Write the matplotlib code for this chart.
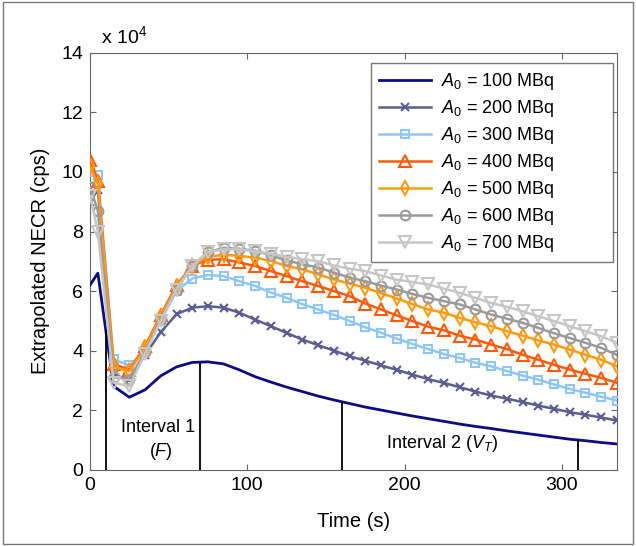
import numpy as np
import matplotlib
matplotlib.use("Agg")
import matplotlib.pyplot as plt
from matplotlib.patches import Rectangle

plt.rcParams['font.family'] = ['Liberation Sans', 'DejaVu Sans']
plt.rcParams['mathtext.fontset'] = 'custom'
plt.rcParams['mathtext.rm'] = 'Liberation Sans'
plt.rcParams['mathtext.it'] = 'Liberation Sans:italic'

# Time points (s)
time_s = [0, 5] + list(range(15, 336, 10))

# Extrapolated NECR (x 10^4 cps)
necr_100 = [6.2, 6.6, 2.8, 2.43, 2.68, 3.15, 3.45, 3.6, 3.62, 3.55, 3.35, 3.12, 2.94, 2.77,
            2.62, 2.47, 2.34, 2.22, 2.1, 2.0, 1.9, 1.8, 1.71, 1.62, 1.53, 1.45, 1.38, 1.3,
            1.23, 1.16, 1.09, 1.02, 0.97, 0.91, 0.86]
necr_200 = [9.0, 9.4, 3.2, 3.0, 3.85, 4.62, 5.22, 5.44, 5.49, 5.44, 5.27, 5.04, 4.82, 4.59,
            4.37, 4.18, 4.0, 3.81, 3.66, 3.5, 3.35, 3.19, 3.04, 2.91, 2.77, 2.62, 2.49, 2.38,
            2.27, 2.15, 2.04, 1.93, 1.84, 1.75, 1.65]
necr_300 = [10.0, 9.9, 3.7, 3.5, 4.0, 5.0, 6.0, 6.42, 6.54, 6.5, 6.33, 6.17, 5.95, 5.77,
            5.56, 5.38, 5.2, 4.99, 4.78, 4.6, 4.4, 4.22, 4.05, 3.88, 3.75, 3.59, 3.47, 3.31,
            3.16, 3.02, 2.86, 2.71, 2.58, 2.45, 2.32]
necr_400 = [10.4, 9.7, 3.55, 3.35, 4.15, 5.2, 6.2, 6.85, 7.05, 7.07, 6.96, 6.84, 6.67, 6.5,
            6.33, 6.17, 6.0, 5.83, 5.58, 5.38, 5.18, 4.99, 4.8, 4.68, 4.5, 4.37, 4.2, 4.05,
            3.86, 3.69, 3.52, 3.36, 3.22, 3.08, 2.92]
necr_500 = [10.2, 9.6, 3.45, 3.3, 4.1, 5.15, 6.15, 6.85, 7.15, 7.22, 7.18, 7.12, 7.01, 6.84,
            6.73, 6.56, 6.39, 6.25, 6.11, 5.93, 5.75, 5.56, 5.38, 5.27, 5.1, 4.95, 4.82, 4.65,
            4.5, 4.34, 4.2, 4.03, 3.86, 3.69, 3.47]
necr_600 = [9.5, 8.7, 3.1, 3.05, 3.95, 5.05, 6.05, 6.85, 7.3, 7.45, 7.42, 7.35, 7.2, 7.03,
            6.9, 6.79, 6.62, 6.45, 6.33, 6.18, 6.05, 5.9, 5.77, 5.66, 5.55, 5.38, 5.21, 5.07,
            4.93, 4.76, 4.58, 4.42, 4.26, 4.09, 3.85]
necr_700 = [9.2, 8.0, 2.92, 2.8, 3.9, 5.0, 6.05, 6.85, 7.3, 7.4, 7.4, 7.33, 7.25, 7.15,
            7.07, 7.0, 6.86, 6.75, 6.67, 6.52, 6.38, 6.3, 6.22, 6.08, 5.94, 5.77, 5.6, 5.47,
            5.32, 5.15, 4.99, 4.82, 4.65, 4.48, 4.26]

activities = [100, 200, 300, 400, 500, 600, 700]
series = [necr_100, necr_200, necr_300, necr_400, necr_500, necr_600, necr_700]
colors = ['#0c0c85', '#5c5c92', '#8ec6f6', '#ff5a0a', '#ff9a10', '#9a9a9a', '#c6c6c6']
markers = [None, 'x', 's', '^', 'd', 'o', 'v']
msizes = [0, 6, 6, 8, 7, 7, 8]

# Interval boundaries (s)
boundaries = [10, 70, 160, 310]

fig = plt.figure(figsize=(6.36, 5.46), dpi=100)
ax = fig.add_axes([0.1415, 0.140, 0.8285, 0.763])

for a, y, c, m, ms in zip(activities, series, colors, markers, msizes):
    lab = r'$A_{\mathit{0}}$' + f' = {a} MBq'
    if m is None:
        ax.plot(time_s, y, color=c, lw=2.0, label=lab, zorder=3)
    else:
        ax.plot(time_s, y, color=c, lw=1.8, marker=m, ms=ms, mfc='none',
                mec=c, mew=1.5, label=lab, zorder=3)

for b in boundaries:
    top = np.interp(b, time_s, necr_100)
    ax.vlines(b, 0, top, color='black', lw=1.3, zorder=4)

ax.text(43, 1.4, 'Interval 1', ha='center', va='center', fontsize=13)
ax.text(45, 0.6, '($\\mathit{F}$)', ha='center', va='center', fontsize=13)
ax.text(224, 0.86, 'Interval 2 ($\\mathit{V}_{\\mathit{T}}$)', ha='center', va='center',
        fontsize=13)

ax.set_xlim(0, 335)
ax.set_ylim(0, 14)
ax.set_xticks([0, 100, 200, 300])
ax.set_yticks(range(0, 15, 2))
ax.set_yticklabels([str(v) for v in range(0, 15, 2)])
ax.tick_params(direction='in', top=True, right=True, labelsize=14, length=4,
               color='#666666', width=0.8, pad=5)
for s in ax.spines.values():
    s.set_color('#666666')
    s.set_linewidth(0.8)

ax.set_xlabel('Time (s)', fontsize=14.5, labelpad=13)
ax.set_ylabel('Extrapolated NECR (cps)', fontsize=14.5, labelpad=8)
ax.text(0.02, 1.015, r'x 10$^{4}$', transform=ax.transAxes, fontsize=14,
        ha='left', va='bottom')

leg = ax.legend(loc='upper left', bbox_to_anchor=(0.533, 0.976, 0.459, 0.0), mode='expand',
                fontsize=13, frameon=True, fancybox=False, handlelength=2.9,
                labelspacing=0.33, borderpad=0.45, handletextpad=0.55, borderaxespad=0.0)
leg.get_frame().set_edgecolor('#555555')
leg.get_frame().set_linewidth(1.0)

fig.patches.append(Rectangle((0.004, 0.004), 0.992, 0.992, transform=fig.transFigure,
                             fill=False, edgecolor='#777777', lw=1.0))

fig.savefig('out.png', dpi=100)
